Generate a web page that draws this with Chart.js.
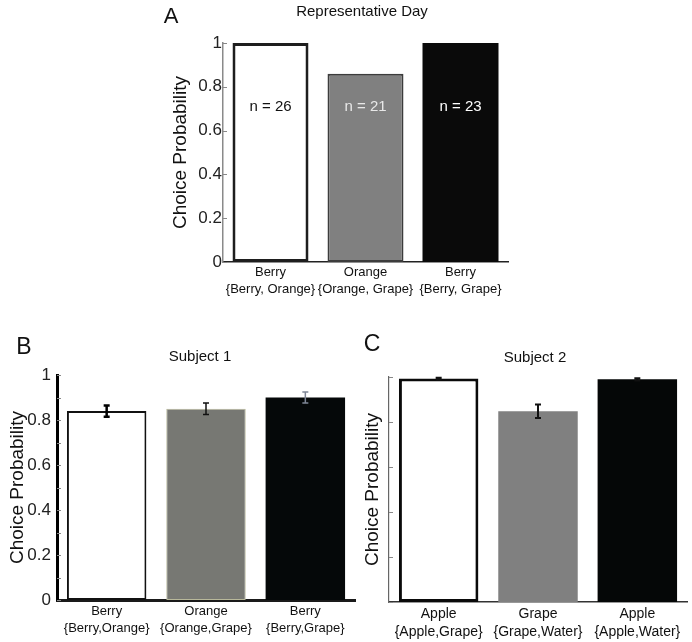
<!DOCTYPE html>
<html>
<head>
<meta charset="utf-8">
<script src="https://cdn.jsdelivr.net/npm/chart.js@4"></script>
<style>
    body { margin: 0; background: #fff; width: 692px; height: 642px; position: relative; overflow: hidden; }
    canvas { position: absolute; }
</style>
</head>
<body>
<canvas id="chartA" width="370" height="310" style="left:150px; top:0px;"></canvas>
<canvas id="chartB" width="360" height="312" style="left:0px; top:330px;"></canvas>
<canvas id="chartC" width="347" height="312" style="left:345px; top:330px;"></canvas>
<script>
// данные
const categoriesA = [['Berry', '{Berry, Orange}'], ['Orange', '{Orange, Grape}'], ['Berry', '{Berry, Grape}']];
const valuesA = [1.0, 0.86, 1.0];
const countLabelsA = ['n = 26', 'n = 21', 'n = 23'];
const countLevelA = 0.71;

const categoriesB = [['Berry', '{Berry,Orange}'], ['Orange', '{Orange,Grape}'], ['Berry', '{Berry,Grape}']];
const valuesB = [0.84, 0.85, 0.90];
const errorsB = [0.025, 0.026, 0.024];

const categoriesC = [['Apple', '{Apple,Grape}'], ['Grape', '{Grape,Water}'], ['Apple', '{Apple,Water}']];
const valuesC = [0.993, 0.848, 0.99];
const errorsC = [0.004, 0.03, 0.005];

const FONT = '"Liberation Sans", Arial, sans-serif';

// маленькие засечки внутрь графика
const innerTicksPlugin = {
    id: 'innerTicks',
    afterDraw(chart, args, opts) {
        if (!opts.show) return;
        const { ctx, chartArea } = chart;
        const y = chart.scales.y;
        ctx.save();
        ctx.strokeStyle = opts.color || '#777';
        ctx.lineWidth = 1;
        const values = y.ticks.map(t => t.value);
        if (opts.minor) {
            values.slice(0, -1).forEach(v => values.push(v + opts.minor));
        }
        values.forEach(v => {
            const py = Math.round(y.getPixelForValue(v)) + 0.5;
            ctx.beginPath();
            ctx.moveTo(chartArea.left, py);
            ctx.lineTo(chartArea.left + 4, py);
            ctx.stroke();
        });
        ctx.restore();
    }
};

const errorBarsPlugin = {
    id: 'errorBars',
    afterDatasetsDraw(chart, args, opts) {
        if (!opts.errors) return;
        const { ctx } = chart;
        const y = chart.scales.y;
        const vals = chart.data.datasets[0].data;
        chart.getDatasetMeta(0).data.forEach((bar, i) => {
            const e = opts.errors[i];
            const top = y.getPixelForValue(vals[i] + e);
            const bot = y.getPixelForValue(vals[i] - e);
            ctx.save();
            ctx.strokeStyle = opts.colors[i];
            ctx.lineWidth = opts.widths[i];
            ctx.beginPath();
            ctx.moveTo(bar.x, top); ctx.lineTo(bar.x, bot);
            ctx.moveTo(bar.x - 3, top); ctx.lineTo(bar.x + 3, top);
            ctx.moveTo(bar.x - 3, bot); ctx.lineTo(bar.x + 3, bot);
            ctx.stroke();
            ctx.restore();
        });
    }
};

const barTextPlugin = {
    id: 'barText',
    afterDatasetsDraw(chart, args, opts) {
        if (!opts.labels) return;
        const { ctx } = chart;
        const py = chart.scales.y.getPixelForValue(opts.level);
        ctx.save();
        ctx.font = '15px ' + FONT;
        ctx.textAlign = 'center';
        ctx.textBaseline = 'middle';
        chart.getDatasetMeta(0).data.forEach((bar, i) => {
            ctx.fillStyle = opts.colors[i];
            ctx.fillText(opts.labels[i], bar.x, py);
        });
        ctx.restore();
    }
};

const panelTextPlugin = {
    id: 'panelText',
    afterDraw(chart, args, opts) {
        const { ctx } = chart;
        ctx.save();
        ctx.fillStyle = '#111';
        ctx.textAlign = 'center';
        ctx.textBaseline = 'middle';
        (opts.items || []).forEach(it => {
            ctx.font = it.size + 'px ' + FONT;
            ctx.fillText(it.text, it.x, it.y);
        });
        ctx.restore();
    }
};

Chart.register(innerTicksPlugin, errorBarsPlugin, barTextPlugin, panelTextPlugin);

function makeChart(id, cfg) {
    return new Chart(document.getElementById(id), {
        type: 'bar',
        data: {
            labels: cfg.labels,
            datasets: [{
                data: cfg.values,
                backgroundColor: cfg.fill,
                borderColor: cfg.stroke,
                borderWidth: cfg.strokeWidth,
                borderSkipped: false,
                barPercentage: 0.8,
                categoryPercentage: 1.0
            }]
        },
        options: {
            responsive: false,
            animation: false,
            layout: { padding: cfg.padding },
            scales: {
                x: {
                    ticks: {
                        font: { family: FONT, size: cfg.xFont, lineHeight: 1.3 },
                        color: '#111', padding: cfg.xPad, maxRotation: 0, autoSkip: false
                    },
                    grid: { display: false, drawTicks: false },
                    border: { display: true, color: cfg.xAxisColor, width: cfg.xAxisWidth },
                    afterFit: s => { s.height = cfg.xHeight; }
                },
                y: {
                    min: 0, max: 1,
                    ticks: {
                        stepSize: 0.2,
                        font: { family: FONT, size: 17 },
                        color: '#222',
                        padding: cfg.yPad,
                        callback: cfg.hideY ? () => '' : undefined
                    },
                    grid: { display: false, drawTicks: false },
                    border: { display: true, color: cfg.yAxisColor, width: cfg.yAxisWidth },
                    title: {
                        display: true, text: 'Choice Probability',
                        font: { family: FONT, size: 19 }, color: '#111', padding: 1
                    },
                    afterFit: s => { s.width = cfg.yWidth; }
                }
            },
            plugins: {
                legend: { display: false },
                tooltip: { enabled: false },
                innerTicks: { show: true, color: '#888', minor: cfg.minorTicks },
                errorBars: cfg.errorBars || {},
                barText: cfg.barText || {},
                panelText: { items: cfg.texts }
            }
        }
    });
}

makeChart('chartA', {
    labels: categoriesA, values: valuesA,
    fill: ['#ffffff', '#808080', '#0a0a0a'],
    stroke: ['#1e1e1e', '#3c3c3c', '#0a0a0a'],
    strokeWidth: [3, 2, 0],
    padding: { left: 18, top: 43, right: 12, bottom: 0 },
    xFont: 13, xPad: 2, xHeight: 48, xAxisColor: '#222', xAxisWidth: 1.5,
    yPad: 1, yWidth: 55, yAxisColor: '#8a8a8a', yAxisWidth: 1.5,
    barText: { labels: countLabelsA, level: countLevelA, colors: ['#111', '#e8e8e8', '#ffffff'] },
    texts: [
        { text: 'A', x: 21, y: 17, size: 22 },
        { text: 'Representative Day', x: 212, y: 12, size: 15 }
    ]
});

makeChart('chartB', {
    labels: categoriesB, values: valuesB,
    fill: ['#ffffff', '#777873', '#050809'],
    stroke: ['#111111', '#b8b89a', '#050809'],
    strokeWidth: [2, 1, 0],
    padding: { left: 5, top: 45, right: 5, bottom: 0 },
    xFont: 13, xPad: 3, xHeight: 42, xAxisColor: '#1a1a1a', xAxisWidth: 3,
    yPad: 6, yWidth: 52, yAxisColor: '#000', yAxisWidth: 3, minorTicks: 0.1,
    errorBars: { errors: errorsB, colors: ['#000', '#111', '#7f8696'], widths: [2.5, 1.5, 1.5] },
    texts: [
        { text: 'B', x: 24, y: 18, size: 23 },
        { text: 'Subject 1', x: 200, y: 27, size: 15 }
    ]
});

makeChart('chartC', {
    labels: categoriesC, values: valuesC,
    fill: ['#ffffff', '#808080', '#050707'],
    stroke: ['#0a0a0a', '#808080', '#050707'],
    strokeWidth: [3, 0, 0],
    padding: { left: 15, top: 47, right: 5, bottom: 0 },
    xFont: 14, xPad: 3, xHeight: 40, xAxisColor: '#333', xAxisWidth: 1.5,
    yPad: 2, yWidth: 29, yAxisColor: '#666', yAxisWidth: 1.2, hideY: true,
    errorBars: { errors: errorsC, colors: ['#111', '#111', '#111'], widths: [2, 2, 2] },
    texts: [
        { text: 'C', x: 27, y: 15, size: 23 },
        { text: 'Subject 2', x: 190, y: 28, size: 15 }
    ]
});
</script>
</body>
</html>
